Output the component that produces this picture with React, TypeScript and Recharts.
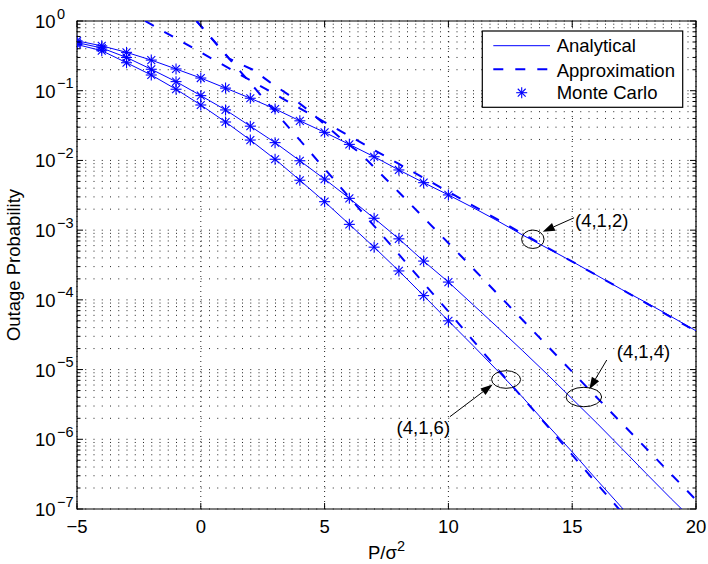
import React from 'react';
import { LineChart, Line, XAxis, YAxis, CartesianGrid, ReferenceDot, ReferenceArea } from 'recharts';

// ---------- data ----------
const SNR_MC = [-5, -4, -3, -2, -1, 0, 1, 2, 3, 4, 5, 6, 7, 8, 9, 10];
const MC_412 = [0.52, 0.44, 0.355, 0.275, 0.205, 0.152, 0.109, 0.078, 0.0547, 0.037, 0.0253, 0.017, 0.0113, 0.0073, 0.0048, 0.0032];
const MC_414 = [0.49, 0.41, 0.3, 0.203, 0.135, 0.085, 0.053, 0.031, 0.018, 0.0099, 0.0054, 0.00286, 0.00148, 7.5e-4, 3.6e-4, 1.8e-4];
const MC_416 = [0.46, 0.375, 0.252, 0.168, 0.105, 0.0624, 0.0356, 0.0196, 0.0104, 0.0052, 0.00256, 0.00121, 5.7e-4, 2.6e-4, 1.15e-4, 5.0e-5];

const SNR_AN = [-5, -4, -3, -2, -1, 0, 1, 2, 3, 4, 5, 6, 7, 8, 9, 10, 11, 12, 13, 14, 15, 16, 17, 18, 19, 20];
const AN_412 = [0.52, 0.44, 0.355, 0.275, 0.205, 0.152, 0.109, 0.078, 0.0547, 0.037, 0.0253, 0.017, 0.0113, 0.0073, 0.0048, 0.0032,
  0.0021, 0.00135, 8.5e-4, 5.5e-4, 3.55e-4, 2.24e-4, 1.41e-4, 9.1e-5, 5.75e-5, 3.6e-5];
const AN_414 = [0.49, 0.41, 0.3, 0.203, 0.135, 0.085, 0.053, 0.031, 0.018, 0.0099, 0.0054, 0.00286, 0.00148, 7.5e-4, 3.6e-4, 1.8e-4,
  8.5e-5, 4.0e-5, 1.86e-5, 8.5e-6, 3.8e-6, 1.7e-6, 7.4e-7, 3.2e-7, 1.4e-7, 6.3e-8];
const AN_416 = [0.46, 0.375, 0.252, 0.168, 0.105, 0.0624, 0.0356, 0.0196, 0.0104, 0.0052, 0.00256, 0.00121, 5.7e-4, 2.6e-4, 1.15e-4, 5.0e-5,
  2.2e-5, 9.5e-6, 4.0e-6, 1.6e-6, 6.6e-7, 2.6e-7, 1.05e-7, 4.2e-8, 1.7e-8, 6.8e-9];

const APX_412_X = [-2.25, 0, 2, 4, 6, 8, 10, 12, 14, 16, 18, 20];
const APX_412_Y = [1.0, 0.355, 0.141, 0.056, 0.0224, 0.0089, 0.00355, 0.00141, 5.6e-4, 2.24e-4, 8.9e-5, 3.55e-5];
const APX_414_X = [-0.17, 0, 1.15, 2.1, 2.8, 3.55, 4.3, 5, 5.7, 6.45, 8, 10.47, 12.82, 15.59, 20];
const APX_414_Y = [1.0, 0.85, 0.288, 0.2, 0.132, 0.087, 0.054, 0.033, 0.02, 0.0126, 0.0035, 4.4e-4, 6.0e-5, 5.6e-6, 1.35e-7];
const APX_416_X = [-0.17, 0, 1, 2, 3, 4, 5, 6, 7, 8, 9, 10, 12, 14, 16, 18];
const APX_416_Y = [1.0, 0.85, 0.33, 0.129, 0.05, 0.0195, 0.0076, 0.00295, 0.00115, 4.5e-4, 1.74e-4, 6.8e-5, 1.0e-5, 1.55e-6, 2.3e-7, 3.5e-8];

const X_TICKS = [-5, 0, 5, 10, 15, 20];
const X_TICK_LABELS = ['\u22125', '0', '5', '10', '15', '20'];
const Y_MAJOR = [1e-7, 1e-6, 1e-5, 1e-4, 1e-3, 1e-2, 1e-1, 1];
const Y_EXP_LABELS = ['\u22127', '\u22126', '\u22125', '\u22124', '\u22123', '\u22122', '\u22121', '0'];
const MINOR_MULT = [2, 3, 4, 5, 6, 7, 8, 9];

const LEGEND_NAMES = ['Analytical', 'Approximation', 'Monte Carlo'];
const ANNOT_LABELS = ['(4,1,2)', '(4,1,4)', '(4,1,6)'];
const ANNOT_X = [13.41, 15.47, 12.33];
const ANNOT_Y = [7.4e-4, 4.04e-6, 7.2e-6];

// ---------- layout / style ----------
const CHART_W = 708;
const CHART_H = 564;
const PLOT_L = 77;
const PLOT_T = 21;
const PLOT_W = 619;
const PLOT_H = 488;
const PLOT_R = PLOT_L + PLOT_W;
const PLOT_B = PLOT_T + PLOT_H;
const X_AXIS_H = 40;
const FONT = '"Liberation Sans", Arial, Helvetica, sans-serif';
const FS = 18.5;
const FS_SUP = 14.5;
const BLUE = '#0000ff';
const DASH = '10 12';

const ANNOT_STYLE = [
  { rx: 11.2, ry: 9.2, tail: [41.2, -21.5], tip: [9.9, -7.5], text: [42.2, -12.5] },
  { rx: 17.8, ry: 9.7, tail: [22.9, -37], tip: [5.5, -7.7], text: [32.9, -39.5] },
  { rx: 14.5, ry: 8.8, tail: [-56.2, 37.2], tip: [-13.5, 5], text: [-109.5, 54] },
];

const Y_TICKS: number[] = [];
Y_MAJOR.forEach((m, i) => {
  Y_TICKS.push(m);
  if (i < Y_MAJOR.length - 1) MINOR_MULT.forEach((k) => Y_TICKS.push(k * m));
});

const toPts = (xs: number[], ys: number[]) => xs.map((x, i) => ({ x, y: ys[i] }));

const StarShape = ({ cx, cy, r = 5.5, sw = 1.1 }: any) => {
  if (cx == null || cy == null || isNaN(cx) || isNaN(cy)) return null;
  const d = r * 0.72;
  return (
    <g stroke={BLUE} strokeWidth={sw} fill="none">
      <line x1={cx - r} y1={cy} x2={cx + r} y2={cy} />
      <line x1={cx} y1={cy - r} x2={cx} y2={cy + r} />
      <line x1={cx - d} y1={cy - d} x2={cx + d} y2={cy + d} />
      <line x1={cx - d} y1={cy + d} x2={cx + d} y2={cy - d} />
    </g>
  );
};

const XTick = (props: any) => {
  const { x, payload } = props;
  const i = X_TICKS.indexOf(payload.value);
  return (
    <g>
      <line x1={x} x2={x} y1={PLOT_B} y2={PLOT_B - 6} stroke="#000" />
      <line x1={x} x2={x} y1={PLOT_T} y2={PLOT_T + 6} stroke="#000" />
      <text x={x} y={PLOT_B + 24} textAnchor="middle" fontSize={FS} fontFamily={FONT} fill="#000">
        {X_TICK_LABELS[i]}
      </text>
    </g>
  );
};

const YTick = (props: any) => {
  const { y, payload } = props;
  const i = Y_MAJOR.indexOf(payload.value);
  const major = i >= 0;
  const len = major ? 6 : 3.5;
  return (
    <g>
      <line x1={PLOT_L} x2={PLOT_L + len} y1={y} y2={y} stroke="#000" />
      <line x1={PLOT_R} x2={PLOT_R - len} y1={y} y2={y} stroke="#000" />
      {major && (
        <g fontFamily={FONT} fill="#000">
          <text x={PLOT_L - 21.5} y={y + 7} textAnchor="end" fontSize={FS}>10</text>
          <text x={PLOT_L - 20} y={y - 2.5} textAnchor="start" fontSize={FS_SUP}>{Y_EXP_LABELS[i]}</text>
        </g>
      )}
    </g>
  );
};

const XTitle = () => (
  <text x={PLOT_L + PLOT_W / 2} y={559} textAnchor="middle" fontSize={FS} fontFamily={FONT} fill="#000">
    <tspan>P/σ</tspan>
    <tspan dy={-8} fontSize={FS_SUP}>2</tspan>
  </text>
);

const YTitle = () => {
  const cx = 20;
  const cy = PLOT_T + PLOT_H / 2;
  return (
    <text x={cx} y={cy} transform={`rotate(-90, ${cx}, ${cy})`} textAnchor="middle" fontSize={FS} fontFamily={FONT} fill="#000">
      Outage Probability
    </text>
  );
};

const Annot = ({ cx, cy, idx }: any) => {
  if (cx == null || cy == null) return null;
  const s = ANNOT_STYLE[idx];
  const tx = cx + s.tail[0], ty = cy + s.tail[1];
  const px = cx + s.tip[0], py = cy + s.tip[1];
  const dx = px - tx, dy = py - ty;
  const L = Math.sqrt(dx * dx + dy * dy);
  const ux = dx / L, uy = dy / L;
  const hl = 12, hw = 4.2;
  const bx = px - ux * hl, by = py - uy * hl;
  const p1 = `${px},${py}`;
  const p2 = `${bx - uy * hw},${by + ux * hw}`;
  const p3 = `${bx + uy * hw},${by - ux * hw}`;
  return (
    <g>
      <ellipse cx={cx} cy={cy} rx={s.rx} ry={s.ry} fill="none" stroke="#000" strokeWidth={1} />
      <line x1={tx} y1={ty} x2={bx} y2={by} stroke="#000" strokeWidth={1} />
      <polygon points={`${p1} ${p2} ${p3}`} fill="#000" />
      <text x={cx + s.text[0]} y={cy + s.text[1]} fontSize={FS} fontFamily={FONT} fill="#000">
        {ANNOT_LABELS[idx]}
      </text>
    </g>
  );
};

export default function App() {
  const an = [AN_412, AN_414, AN_416].map((ys) => toPts(SNR_AN, ys));
  const mc = [MC_412, MC_414, MC_416].map((ys) => toPts(SNR_MC, ys));
  const apx = [toPts(APX_412_X, APX_412_Y), toPts(APX_414_X, APX_414_Y), toPts(APX_416_X, APX_416_Y)];

  const lx = 482.3, ly = 31, lw = 200.4, lh = 76.3;

  return (
    <div style={{ position: 'fixed', left: 0, top: 0, width: CHART_W, height: CHART_H, background: '#fff' }}>
      <LineChart
        width={CHART_W}
        height={CHART_H}
        margin={{ top: PLOT_T, right: CHART_W - PLOT_R, bottom: CHART_H - PLOT_B - X_AXIS_H, left: 0 }}
      >
        <CartesianGrid vertical={false} stroke="#222" strokeWidth={1} strokeDasharray="1 7.25" />
        <CartesianGrid horizontal={false} stroke="#222" strokeWidth={1} strokeDasharray="1 4" />
        <XAxis
          type="number"
          dataKey="x"
          domain={[-5, 20]}
          ticks={X_TICKS}
          interval={0}
          height={X_AXIS_H}
          axisLine={false}
          tickLine={false}
          tick={<XTick />}
          allowDataOverflow
          label={<XTitle />}
        />
        <YAxis
          type="number"
          dataKey="y"
          scale="log"
          domain={[1e-7, 1]}
          ticks={Y_TICKS}
          interval={0}
          width={PLOT_L}
          axisLine={false}
          tickLine={false}
          tick={<YTick />}
          allowDataOverflow
          label={<YTitle />}
        />
        <ReferenceArea x1={-5} x2={20} y1={1e-7} y2={1} fill="none" stroke="#000" strokeWidth={1.2} ifOverflow="visible" />
        {an.map((d, i) => (
          <Line key={'an' + i} data={d} dataKey="y" type="linear" stroke={BLUE} strokeWidth={1} dot={false} activeDot={false} isAnimationActive={false} />
        ))}
        {apx.map((d, i) => (
          <Line key={'ap' + i} data={d} dataKey="y" type="linear" stroke={BLUE} strokeWidth={2} strokeDasharray={DASH} dot={false} activeDot={false} isAnimationActive={false} />
        ))}
        {mc.map((d, i) => (
          <Line
            key={'mc' + i}
            data={d}
            dataKey="y"
            type="linear"
            stroke="none"
            strokeWidth={0}
            dot={(p: any) => <StarShape key={'s' + i + '-' + p.index} cx={p.cx} cy={p.cy} />}
            activeDot={false}
            isAnimationActive={false}
          />
        ))}
        {ANNOT_LABELS.map((lab, i) => (
          <ReferenceDot
            key={lab}
            x={ANNOT_X[i]}
            y={ANNOT_Y[i]}
            r={1}
            ifOverflow="visible"
            shape={(p: any) => <Annot cx={p.cx} cy={p.cy} idx={i} />}
          />
        ))}
      </LineChart>
      <svg
        width={CHART_W}
        height={CHART_H}
        style={{ position: 'absolute', left: 0, top: 0, pointerEvents: 'none' }}
      >
        <rect x={lx} y={ly} width={lw} height={lh} fill="#fff" stroke="#000" strokeWidth={1.2} />
        <line x1={493.3} x2={550} y1={45.7} y2={45.7} stroke={BLUE} strokeWidth={1} />
        <line x1={493.3} x2={550} y1={69.3} y2={69.3} stroke={BLUE} strokeWidth={2} strokeDasharray={DASH} />
        <StarShape cx={521.7} cy={92.7} />
        {LEGEND_NAMES.map((n, i) => (
          <text key={n} x={556.7} y={[52.3, 76.7, 99.3][i]} fontSize={FS} fontFamily={FONT} fill="#000">
            {n}
          </text>
        ))}
      </svg>
    </div>
  );
}
